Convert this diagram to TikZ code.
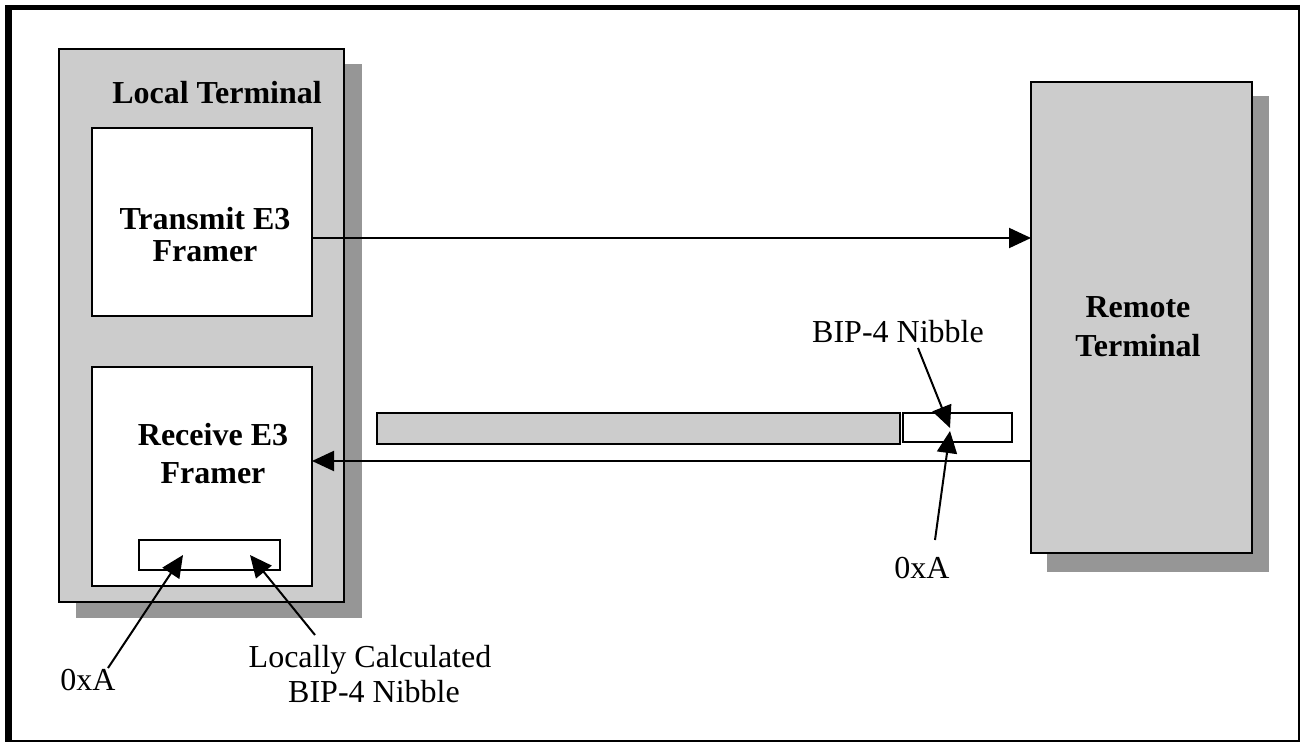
\documentclass[tikz,border=0pt]{standalone}
\usepackage{fontspec}
\setmainfont{Liberation Serif}
\usetikzlibrary{arrows.meta}
\definecolor{boxgray}{RGB}{204,204,204}
\definecolor{shadowgray}{RGB}{150,150,150}
\tikzset{
  box/.style={draw=black, line width=2pt, anchor=north west, inner sep=0pt, outer sep=0pt},
  graybox/.style={box, fill=boxgray},
  whitebox/.style={box, fill=white},
  lbl/.style={font=\fontsize{32}{36}\selectfont, anchor=base, inner sep=0pt},
  blbl/.style={lbl, font=\fontsize{32}{36}\selectfont\bfseries},
  arr/.style={line width=2pt, -{Triangle[length=22pt,width=20pt]}},
}
\begin{document}
\begin{tikzpicture}[x=1pt,y=-1pt]
\useasboundingbox (0,0) rectangle (1301,743);
% outer frame
\fill[black] (5,5) rectangle (12,742);
\fill[black] (5,5) rectangle (1300,10);
\draw[line width=2.5pt] (1299,5) -- (1299,742);
\draw[line width=2pt] (5,741) -- (1300,741);
% shadows
\fill[shadowgray] (76,64) rectangle (362,618);
\fill[shadowgray] (1047,96) rectangle (1269,572);
% boxes
\node[graybox, minimum width=285pt, minimum height=553pt] (local) at (59,49) {};
\node[whitebox, minimum width=220pt, minimum height=188pt] (tx) at (92,128) {};
\node[whitebox, minimum width=220pt, minimum height=219pt] (rx) at (92,367) {};
\node[whitebox, minimum width=141pt, minimum height=30pt] (nibL) at (139,540) {};
\node[graybox, minimum width=221pt, minimum height=471pt] (remote) at (1031,82) {};
\node[graybox, minimum width=523pt, minimum height=31pt] (frame) at (377,413) {};
\node[whitebox, minimum width=109pt, minimum height=29pt] (nibR) at (903,413) {};
% labels
\node[blbl] (lt) at (217,104) {Local Terminal};
\node[blbl] (tx1) at (205,230) {Transmit E3};
\node[blbl] (tx2) at (205,262) {Framer};
\node[blbl] (rx1) at (213,445) {Receive E3};
\node[blbl] (rx2) at (213,483) {Framer};
\node[blbl] (rt1) at (1138,318) {Remote};
\node[blbl] (rt2) at (1138,356) {Terminal};
\node[lbl] (bipR) at (898,342) {BIP-4 Nibble};
\node[lbl] (oxR) at (922,578) {0xA};
\node[lbl] (oxL) at (88,690) {0xA};
\node[lbl] (loc1) at (370,667) {Locally Calculated};
\node[lbl] (loc2) at (374,702) {BIP-4 Nibble};
% connectors
\draw[arr] ([yshift=-110pt]tx.north east) -- ([yshift=-110pt]tx.north east -| remote.west);
\draw[arr] ([yshift=-379pt]remote.north west) -- ([yshift=-379pt]remote.north west -| rx.east);
\coordinate (tipR1) at (950,428);
\coordinate (tipR2) at (950,431);
\coordinate (tipL1) at (183,555);
\coordinate (tipL2) at (250,555);
\draw[arr] ([xshift=20pt,yshift=-6pt]bipR.base) -- (tipR1);
\draw[arr] ([xshift=13pt,yshift=38pt]oxR.base) -- (tipR2);
\draw[arr] ([xshift=20pt,yshift=22pt]oxL.base) -- (tipL1);
\draw[arr] ([xshift=-55pt,yshift=32pt]loc1.base) -- (tipL2);
\end{tikzpicture}
\end{document}
